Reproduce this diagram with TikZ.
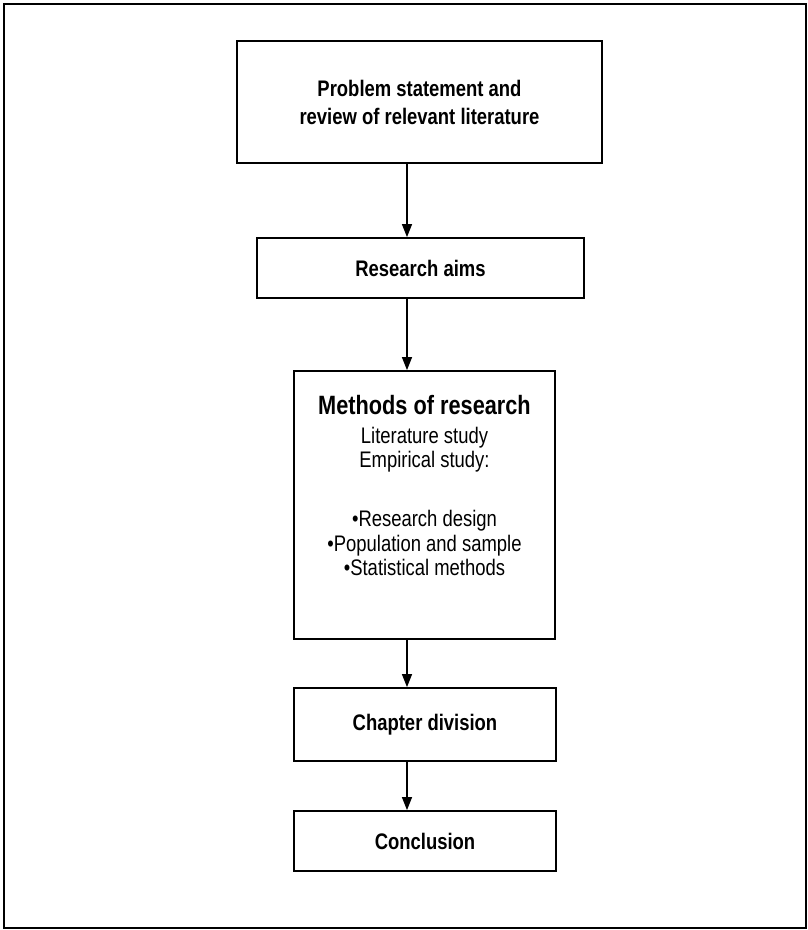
\documentclass[tikz,border=0pt]{standalone}
\usepackage{fontspec}
\setmainfont{Liberation Sans}[FakeStretch=0.82]
\usetikzlibrary{arrows.meta}
\begin{document}
\begin{tikzpicture}[x=1pt,y=-1pt,
  stepbox/.style={draw, line width=1.8pt, inner sep=0pt, align=center,
    font=\bfseries\fontsize{22.5}{28}\selectfont},
  flow/.style={-{Triangle[length=13pt,width=10pt]}, line width=1.3pt},
  outerframe/.style={line width=1.4pt},
  bodytext/.style={inner sep=0pt, align=center, font=\fontsize{22.5}{24.5}\selectfont}]
\useasboundingbox (0,0) rectangle (808,930);
\draw[outerframe] (4,4) rectangle (806,928);

% flow chart boxes
\node[stepbox, minimum width=365pt, minimum height=122pt] (problem) at (419.5,102)
  {Problem statement and\\review of relevant literature};
\node[stepbox, minimum width=327pt, minimum height=60pt] (aims) at (420.5,268)
  {Research aims};
\node[stepbox, minimum width=261pt, minimum height=268pt] (methods) at (424.5,505) {};
\node[bodytext, anchor=north, yshift=-24.5pt] (methodstext) at (methods.north)
  {{\fontsize{26.5}{30}\selectfont\bfseries Methods of research}\\[4.5pt]
   Literature study\\
   Empirical study:\\[34.5pt]
   •Research design\\
   •Population and sample\\
   •Statistical methods};
\node[stepbox, minimum width=262pt, minimum height=73pt] (chapters) at (425,724.5)
  {Chapter division};
\node[stepbox, minimum width=262pt, minimum height=60pt] (conclusion) at (425,841)
  {Conclusion};

% connectors run down a common vertical line
\coordinate (spine) at (407,0);
\draw[flow] (problem.south -| spine) -- (aims.north -| spine);
\draw[flow] (aims.south -| spine) -- (methods.north -| spine);
\draw[flow] (methods.south -| spine) -- (chapters.north -| spine);
\draw[flow] (chapters.south -| spine) -- (conclusion.north -| spine);
\end{tikzpicture}
\end{document}
